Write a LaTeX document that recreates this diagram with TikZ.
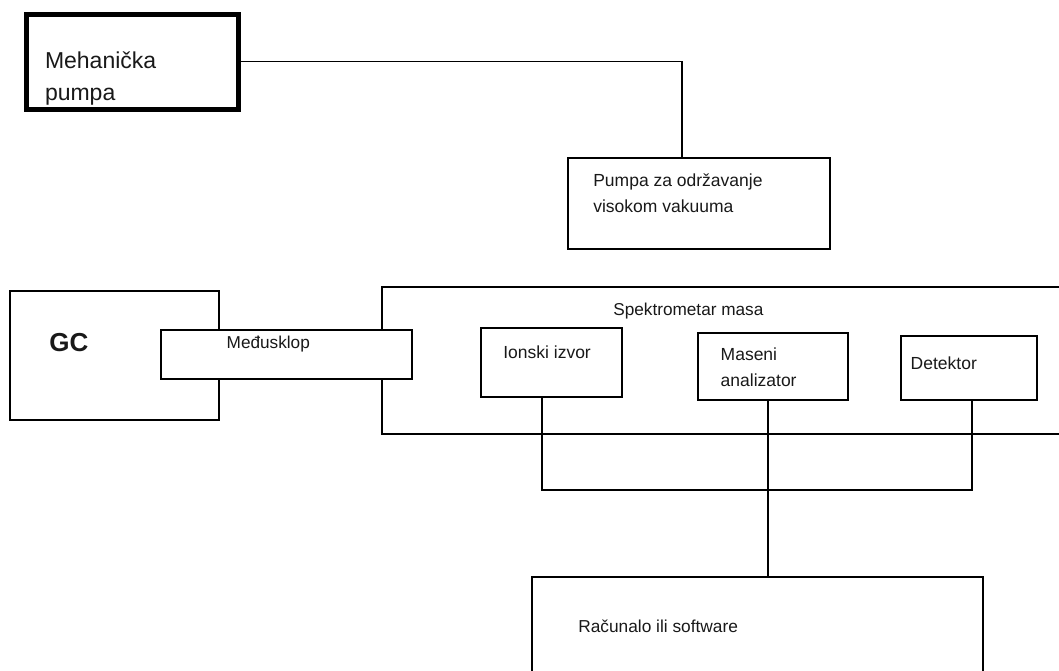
\documentclass[tikz,border=0pt]{standalone}
\usepackage{fontspec}
\setmainfont{Liberation Sans}
\tikzset{
  box/.style={draw=black, line width=1.8pt, fill=white, rectangle, inner sep=0pt, outer sep=0pt},
  thickbox/.style={box, line width=5pt},
  lbl/.style={anchor=base west, inner sep=0pt, outer sep=0pt, text=black!90},
  wire/.style={draw=black, line width=1.8pt},
}
\newcommand{\fs}[1]{\fontsize{#1}{#1}\selectfont}
\begin{document}
\begin{tikzpicture}[x=1pt,y=-1pt]
\useasboundingbox (0,0) rectangle (1059,670);
\clip (0,0) rectangle (1059,670);
\fill[white] (0,0) rectangle (1059,670);
% boxes
\node[thickbox, minimum width=211.5pt, minimum height=95pt] (meh) at (132.25,61.5) {};
\node[box, minimum width=261.7pt, minimum height=90.7pt] (pump) at (699.2,203.7) {};
\node[box, minimum width=209pt, minimum height=129pt] (gc) at (114.5,355.5) {};
\node[box, minimum width=688pt, minimum height=147pt] (ms) at (726,360.5) {};
\node[box, minimum width=251.3pt, minimum height=49.6pt] (med) at (286.7,354.5) {};
\node[box, minimum width=141.6pt, minimum height=69pt] (ion) at (551.5,362.2) {};
\node[box, minimum width=149.3pt, minimum height=67.3pt] (mas) at (773,366.4) {};
\node[box, minimum width=136.3pt, minimum height=64pt] (det) at (969.2,368) {};
\node[box, minimum width=451.6pt, minimum height=113.3pt] (rac) at (757.5,633.3) {};
% labels
\node[lbl] (t1) at (45,68.3) {\fs{23}Mehanička};
\node[lbl] (t2) at (45,100) {\fs{23}pumpa};
\node[lbl] (t3) at (593.3,186.7) {\fs{17.5}Pumpa za održavanje};
\node[lbl] (t4) at (593.3,212.7) {\fs{17.5}visokom vakuuma};
\node[lbl] (t5) at (49.3,351.7) {\fs{26}\bfseries GC};
\node[lbl] (t6) at (226.7,348.3) {\fs{17.2}Međusklop};
\node[lbl] (t7) at (613.3,315) {\fs{17.2}Spektrometar masa};
\node[lbl] (t8) at (503.3,358.3) {\fs{17.5}Ionski izvor};
\node[lbl] (t9) at (720.7,360) {\fs{17.5}Maseni};
\node[lbl] (t10) at (720.7,386.7) {\fs{17.5}analizator};
\node[lbl] (t11) at (910.7,369.3) {\fs{17.5}Detektor};
\node[lbl] (t12) at (578.3,632.3) {\fs{17.3}Računalo ili software};
% connectors
\draw[wire] (meh.east) -| ([xshift=-17.5pt]pump.north);
\coordinate (busL) at (542.3,490);
\coordinate (busR) at (972.3,490);
\draw[wire] ([xshift=-9.2pt]ion.south) -- (busL) -- (busR) -- ([xshift=3.1pt]det.south);
\draw[wire] ([xshift=-4.7pt]mas.south) -- ([xshift=-4.7pt]mas.south |- rac.north);
\end{tikzpicture}
\end{document}
